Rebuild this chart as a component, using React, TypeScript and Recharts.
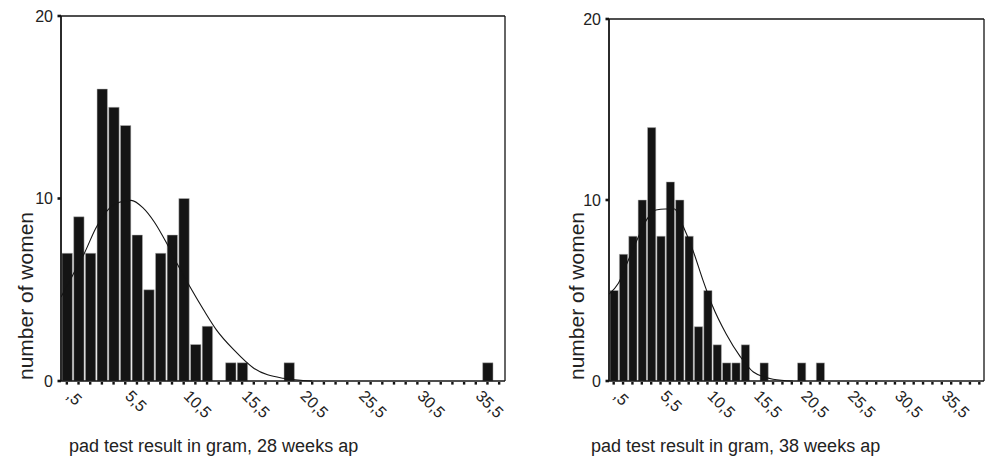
import React from 'react';
import { ComposedChart, Bar, Line, XAxis, YAxis, ReferenceLine } from 'recharts';

// counts per 1 g bin, bin k is centred at k + 0.5
const counts28 = [
  7, 9, 7, 16, 15, 14, 8, 5, 7, 8, 10, 2, 3, 0, 1, 1, 0, 0, 0, 1,
  0, 0, 0, 0, 0, 0, 0, 0, 0, 0, 0, 0, 0, 0, 0, 0, 1, 0,
];
const counts38 = [
  5, 7, 8, 10, 14, 8, 11, 10, 8, 3, 5, 2, 1, 1, 2, 0, 1, 0, 0, 0,
  1, 0, 1, 0, 0, 0, 0, 0, 0, 0, 0, 0, 0, 0, 0, 0, 0, 0, 0, 0,
];

// fitted normal curve
const curve28X = [0, 1, 2, 3, 4.2, 5, 6, 7, 8, 9, 10, 11, 12.2, 13.3, 14.8, 16.5, 19, 21.5];
const curve28Y = [4.6, 5.8, 7.0, 8.4, 9.5, 9.8, 9.9, 9.5, 8.7, 7.6, 6.35, 5.2, 3.9, 2.8, 1.7, 0.7, 0.15, 0];
const curve38X = [0, 1, 2, 3, 4, 5, 6, 7, 7.6, 9, 10, 11, 12.5, 14, 15.4, 17.5, 19.6];
const curve38Y = [4.8, 5.4, 6.6, 7.8, 8.9, 9.45, 9.5, 9.5, 8.9, 7.15, 5.6, 4.2, 2.6, 1.35, 0.5, 0.1, 0];

const labelTicks = [0.5, 5.5, 10.5, 15.5, 20.5, 25.5, 30.5, 35.5];
const tickLabels = [',5', '5,5', '10,5', '15,5', '20,5', '25,5', '30,5', '35,5'];
const yTicks = [0, 10, 20];

const FONT = '"Liberation Sans", Arial, sans-serif';
const INK = '#141414';

const XTick = (props: any) => {
  const { x, y, payload } = props;
  const idx = labelTicks.indexOf(payload.value);
  const tx = x + 2;
  const ty = y + 13;
  return (
    <g>
      <rect x={x - 1.2} y={y + 1} width={2.4} height={2.6} fill={INK} />
      {idx >= 0 && (
        <text
          x={tx}
          y={ty}
          transform={`rotate(45 ${tx} ${ty})`}
          textAnchor="start"
          dominantBaseline="middle"
          fontSize={16}
          fontFamily={FONT}
          fill="#222"
        >
          {tickLabels[idx]}
        </text>
      )}
    </g>
  );
};

const YTick = (props: any) => {
  const { x, y, payload } = props;
  return (
    <g>
      <rect x={x - 3.5} y={y - 1.3} width={3.5} height={2.6} fill={INK} />
      <text
        x={x - 8}
        y={y}
        textAnchor="end"
        dominantBaseline="central"
        fontSize={16}
        fontFamily={FONT}
        fill="#222"
      >
        {payload.value}
      </text>
    </g>
  );
};

interface HistProps {
  counts: number[];
  curveX: number[];
  curveY: number[];
  left: number;
  width: number;
  marginLeft: number;
  marginRight: number;
  marginTop: number;
  barSize: number;
}

function Histogram({ counts, curveX, curveY, left, width, marginLeft, marginRight, marginTop, barSize }: HistProps) {
  const xMax = counts.length;
  const bins = counts.map((c, i) => ({ bin: String(i), x: i + 0.5, count: c }));
  const curve = curveX.map((cx, i) => ({ x: cx, curve: curveY[i] }));
  const binTicks = bins.map((b) => b.x);

  return (
    <div style={{ position: 'absolute', left, top: 0 }}>
      <ComposedChart
        width={width}
        height={461}
        data={bins}
        margin={{ top: marginTop, right: marginRight, left: marginLeft, bottom: 20 }}
      >
        {/* category axis only places the bars, one band per bin */}
        <XAxis xAxisId="bins" dataKey="bin" type="category" height={0} hide />
        <XAxis
          xAxisId="val"
          dataKey="x"
          type="number"
          domain={[0, xMax]}
          ticks={binTicks}
          interval={0}
          height={60}
          tickSize={0}
          tickMargin={0}
          tick={<XTick />}
          axisLine={{ stroke: INK, strokeWidth: 1.6 }}
          allowDataOverflow
        />
        <YAxis
          type="number"
          domain={[0, 20]}
          ticks={yTicks}
          width={40}
          tickSize={0}
          tickMargin={0}
          tick={<YTick />}
          axisLine={{ stroke: INK, strokeWidth: 1.8 }}
        />
        <ReferenceLine xAxisId="val" y={20} stroke={INK} strokeWidth={1.3} />
        <ReferenceLine xAxisId="val" x={xMax} stroke={INK} strokeWidth={1.3} />
        <Bar
          xAxisId="bins"
          dataKey="count"
          fill={INK}
          stroke="#b8b8b8"
          strokeWidth={0.5}
          barSize={barSize}
          isAnimationActive={false}
        />
        <Line
          xAxisId="val"
          data={curve}
          dataKey="curve"
          type="monotone"
          stroke={INK}
          strokeWidth={1.1}
          dot={false}
          isAnimationActive={false}
        />
      </ComposedChart>
    </div>
  );
}

export default function App() {
  return (
    <div style={{ position: 'absolute', left: 0, top: 0, width: 986, height: 461, background: '#fff', fontFamily: FONT }}>
      <Histogram
        counts={counts28}
        curveX={curve28X}
        curveY={curve28Y}
        left={0}
        width={520}
        marginLeft={21}
        marginRight={15}
        marginTop={16}
        barSize={10.4}
      />
      <Histogram
        counts={counts38}
        curveX={curve38X}
        curveY={curve38Y}
        left={540}
        width={446}
        marginLeft={29}
        marginRight={2}
        marginTop={19}
        barSize={8.3}
      />
      <svg width={986} height={461} style={{ position: 'absolute', left: 0, top: 0, pointerEvents: 'none' }}>
        <text x={33} y={296} transform="rotate(-90 33 296)" textAnchor="middle" fontSize={21} fontFamily={FONT} fill="#222">
          number of women
        </text>
        <text x={584} y={296} transform="rotate(-90 584 296)" textAnchor="middle" fontSize={21} fontFamily={FONT} fill="#222">
          number of women
        </text>
        <text x={69} y={452} fontSize={18} fontFamily={FONT} fill="#222">
          pad test result in gram, 28 weeks ap
        </text>
        <text x={591} y={452} fontSize={18} fontFamily={FONT} fill="#222">
          pad test result in gram, 38 weeks ap
        </text>
      </svg>
    </div>
  );
}
